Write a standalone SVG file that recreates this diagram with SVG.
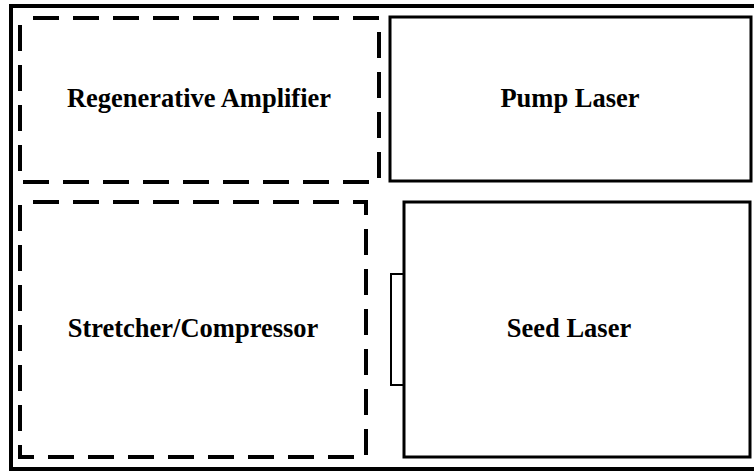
<svg xmlns="http://www.w3.org/2000/svg" width="754" height="473" viewBox="0 0 754 473">
<style>
.frame{fill:none;stroke:#000;stroke-width:4}
.dash{fill:none;stroke:#000;stroke-width:4;stroke-dasharray:26 14;stroke-dashoffset:27}
.box{fill:none;stroke:#000;stroke-width:3}
.tab{fill:none;stroke:#000;stroke-width:2}
.lbl{font-family:"Liberation Serif","Times New Roman",serif;font-weight:bold;font-size:26.5px;fill:#000;text-anchor:middle}
</style>
<rect width="754" height="473" fill="#fff"/>
<rect class="frame" x="11" y="6" width="752" height="463"/>
<g id="regenerative-amplifier">
<rect class="dash" x="20" y="18" width="359" height="164"/>
<text class="lbl" x="199" y="107">Regenerative Amplifier</text>
</g>
<g id="pump-laser">
<rect class="box" x="390" y="17" width="361" height="164"/>
<text class="lbl" x="570" y="107">Pump Laser</text>
</g>
<g id="stretcher-compressor">
<rect class="dash" x="20" y="202" width="346" height="255"/>
<text class="lbl" x="193" y="337">Stretcher/Compressor</text>
</g>
<g id="seed-laser">
<rect class="box" x="404" y="202" width="346" height="255"/>
<rect class="tab" x="391" y="274" width="13" height="111"/>
<text class="lbl" x="569" y="337">Seed Laser</text>
</g>
<g id="connectors"></g>
</svg>
